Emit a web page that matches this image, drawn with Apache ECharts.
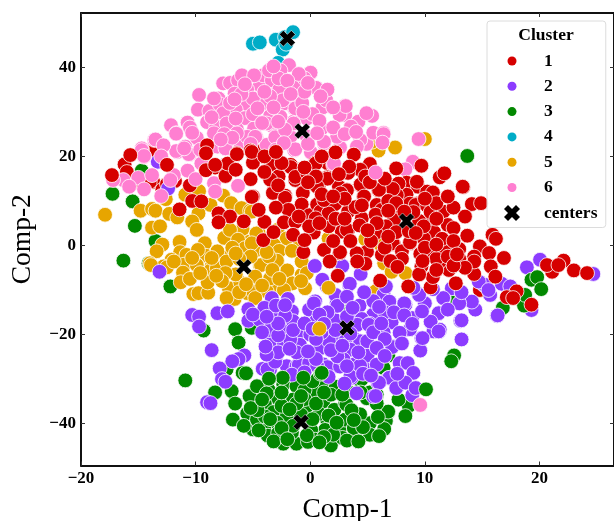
<!DOCTYPE html>
<html><head><meta charset="utf-8">
<script src="https://cdn.jsdelivr.net/npm/echarts@6/dist/echarts.min.js"></script>
<style>html,body{margin:0;padding:0;background:#fff}#c{width:614px;height:521px}</style>
</head><body><div id="c"></div>
<script>
const xTicks=[-20,-10,0,10,20];
const yTicks=[-40,-20,0,20,40];
const clusterNames=['1','2','3','4','5','6'];
const centers=[[-2,46.5],[-0.7,25.7],[8.4,5.5],[-5.8,-4.8],[3.2,-18.5],[-0.8,-39.7]];
const cluster4=[[-5.0,45.3],[-4.4,45.6],[-3.0,46.2],[-2.4,44.0],[-2.2,46.8],[-1.5,47.9],[-2.8,41.0],[-2.1,45.3]];
const cluster3=[[-14.7,16.8],[-17.25,11.6],[-15.5,9.9],[-15.3,4.4],[-13.5,1],[-16.3,-3.4],[-14.1,-4],[-12.2,-9.2],[-9.3,-19.1],[-6.55,-18.8],[-6.25,-21.8],[-5.1,-18.5],[-5.6,-28.6],[-5.9,-28.6],[-7.3,-27.8],[-10.9,-30.3],[-8.3,-33],[-6.85,-32.7],[-5.3,-33.8],[-6.55,-35.5],[-5.5,-37.7],[-6.75,-39.1],[-5,-41.3],[-3.65,-32.35],[-2.35,-31.2],[-1.2,-31.6],[-2.8,-34.4],[-3.95,-35.7],[-3.2,-37.4],[-2.05,-38.3],[-3.95,-40.3],[-2.9,-39.8],[-3.7,-42.7],[-2.35,-44.5],[-1.6,-42.4],[-1.2,-44.5],[-1.5,-34.6],[-4.65,-31.6],[-4.65,-39.1],[-0.3,-36.1],[1.15,-35],[2.1,-36.9],[1.5,-39.5],[1.3,-41.4],[0.08,-41.4],[0.43,-43.6],[1.8,-44.9],[2.55,-41.4],[3.05,-39.1],[3.05,-35.4],[3.3,-32.8],[2.2,-31.7],[1,-30.9],[4.35,-38],[4,-42.9],[5.2,-39.9],[5.2,-42.5],[5.8,-35.4],[6.8,-37.5],[6.6,-39.4],[6.45,-41.2],[4.93,-34.3],[-3.95,-38.4],[4.35,-30.3],[6.8,-24.7],[6.4,-27.5],[4.5,-30],[8.6,-36],[7.7,-34.6],[8.3,-38.3],[6.8,-37.3],[5.8,-35.5],[4.35,-37.9],[3.15,-35.7],[3.25,-32.7],[5.2,-33],[3.25,-14.8],[12.2,-12.6],[16.8,-14],[-1.6,-42],[-0.8,-38],[0.3,-33],[-0.5,-32.5],[2.8,-43.2],[-2.8,-42.1],[-0.2,-44.1],[0.8,-37.8],[-4.6,-37],[-5.2,-36.5],[-3.8,-33.2],[-2.5,-36],[-0.5,-34.5],[1.8,-33.5],[2,-42.5],[3.8,-41],[3.6,-37],[-1.5,-40.5],[-2.5,-41],[0.2,-39],[1.2,-43],[-4.5,-41.5],[-3.2,-44],[5.9,-38.5],[4.4,-33],[0.2,-30.5],[-2.5,-33],[-1.2,-35.5],[0.5,-35.5],[2.8,-33.5],[1.6,-38.2],[3.2,-43.8],[-0.3,-42.6],[-1.8,-36.8],[-3.5,-39],[4.6,-40.8],[5.8,-33.5],[3.8,-39.2],[-2,-43.5],[0.8,-44.2],[2.3,-39.8],[-4.2,-34.6],[6,-42.8],[4.2,-44],[-0.8,-33.8],[-5.8,-40.5],[1.2,-33]];
const cluster3Top=[[13.7,20.1],[12.55,-24.7],[12.3,-26],[10.1,-32.3],[19.3,-7.7],[19.8,-7.1],[20.15,-9.8],[18.65,-13.5],[18.75,-11.1],[-0.6,-29.7],[0.9,-28.8],[1,-28.6],[-2.4,-29.7],[-3.6,-29.9],[-5.6,-28.7]];
const cluster5=[[-17.9,6.9],[-14.8,7.8],[-13.8,8.2],[-13.5,7.8],[-12.3,7.1],[-12.6,10.4],[-13.8,4],[-13.1,4.3],[-10.9,11.4],[-9.7,12.2],[-11.6,6.3],[-9.4,9.2],[-9.75,7.2],[-10.3,5.4],[-9.9,3.5],[-9.2,0.5],[-7.6,11.2],[-6.9,9.5],[-6,8.4],[-8.7,9.1],[-5.25,7.8],[-7.5,1.7],[-5.9,3.7],[-7,3.5],[-5.25,0.9],[-6.3,1.3],[-5.7,-0.6],[-4.5,2.8],[-4.7,-1],[-11.4,0.8],[-12.9,0.2],[-13.4,-1.3],[-11.35,-1.5],[-12.1,-3.2],[-10.8,-2.1],[-9.1,-2.3],[-7.3,-2.8],[-8.1,-1.3],[-9.9,-4.3],[-14,-4],[-12.8,-4.7],[-8.6,-4.7],[-11,-4.3],[-13.9,-4.4],[-12.5,-4.9],[-11.9,-3.6],[-11.1,-6.1],[-11.3,-8.25],[-10.2,-10.9],[-9.75,-10.7],[-8.9,-10.6],[-9.9,-4.4],[-8.7,-5.6],[-8.95,-8.3],[-8.15,-5.1],[-7.3,-3.6],[-7.1,-9.6],[-6.6,-12],[-6.1,-8.3],[-4.8,-7.1],[-4.9,-11.8],[-4.4,-4.4],[-2.9,-3.6],[-2.05,-5.9],[-1.6,-8.5],[-3.1,-9.2],[-5.5,-10.7],[-3.8,-10.3],[-7.3,-11.8],[-0.75,-6.6],[-5,-10.3],[-5.1,7.6],[-4.7,2.7],[-2.85,3.5],[-2.05,1.6],[-0.9,0.9],[-3.15,0.1],[-2.7,-1.2],[-5.1,0.5],[-0.75,-3.6],[-4.3,-4.4],[-2.9,-3.4],[-2,-5.6],[-1.55,-8.5],[-0.45,-9.6],[-0.3,-6.2],[-4.8,-7],[-3.5,-7.4],[-4.8,-11.8],[-2.3,-10],[6.1,0.3],[6.45,-4],[7.1,-5.9],[5.7,-10.3],[5.96,21.3],[7.4,22],[10,23.9],[5.5,23.7],[5.4,23.3],[-3.6,-2.5],[-6.5,-6.5],[-7.4,-6.2],[-10.5,-7.5],[-1.6,-1.2],[-6.8,-0.5],[-7.7,-8],[-5.2,-2.5],[-6.2,-3],[-3.3,-5.5],[-8.6,-2.8],[-9.8,-1],[-4.2,-9],[-6.2,-10.5],[-8.2,-6.8],[-9.6,-6.2],[-5.6,-8.7],[-2.7,-7.5],[-6.5,-1.8],[-10.3,-2.8],[-3.8,-1.5],[-0.8,-8]];
const cluster5Top=[[1.6,1.6],[4.8,1.4],[6.1,0.3],[0.8,-18.7],[1.6,-9.5],[8.3,-6.2]];
const cluster1Base=[[-14.8,14],[-13.7,14.3],[-14,14.3],[-13.8,21.3],[-16.2,18.2],[-12.9,12.5],[14.8,-10],[-11.8,14.5],[-12.5,13.8],[-10.5,13.5],[1.5,18.5],[-2,24],[-4.5,21.5],[-16,16.5]];
const cluster1Top=[[-15.7,20.3],[-17.3,15.8],[-12.5,18.1],[-9,22.5],[-9.1,20.7],[-8.3,17.5],[-9.1,16.9],[-7.4,15.6],[-6.4,20.7],[-7.2,18.4],[-5.2,21.3],[-5,18.6],[-5.2,14.9],[-5,11],[-11.4,8.1],[-10.3,10],[-8,7.2],[-7,6.5],[-8,5.2],[-5.8,5.4],[-9.5,9.9],[-5.1,21],[-6.4,20.5],[-3.35,18.2],[-8.3,18.1],[-1.7,18.1],[-3.3,18.3],[-1.7,17.6],[-1.3,14.7],[-2.76,15.5],[2.2,20.9],[3.8,20.4],[0.44,18.6],[3.35,16.7],[5.2,18.3],[4.36,17],[1.5,15.3],[0.73,13.4],[4.36,13.6],[5.96,12.5],[3.2,12.5],[-0.64,12],[-2.2,11.2],[-3.25,12],[2.5,13.2],[9.7,17.9],[7.5,17.3],[8.4,14.1],[9.4,13.2],[7.6,12.9],[8.4,11.4],[10.2,12.1],[-3.26,11.8],[-2.2,10.7],[-0.65,11.8],[0.72,13.3],[1.5,15],[3.3,16.3],[3.2,12.4],[4.65,10.9],[5.95,12.4],[-1.3,15.4],[-3.5,14.8],[-5.1,10.9],[-0.75,9.2],[-1.9,8],[-0.07,6.8],[-2.3,5.2],[-4,5.3],[-1.3,5.3],[-1.5,2.4],[0.3,2.9],[1.6,4.6],[0.6,9.2],[2.2,9.4],[3.9,8.5],[3.3,7.6],[5.75,7],[3.3,3.5],[2.75,3.1],[6.55,4.2],[7.4,7.6],[7.7,13.9],[9.3,9.4],[7.55,11.3],[8.7,9.4],[8.7,0.5],[7.3,0.3],[6.25,-2.1],[4.95,-1.4],[4.05,-1.75],[2.55,-1.75],[1.2,-1],[-0.6,-1.5],[4.8,-4.1],[4.1,-3.6],[2.4,-6.8],[6.1,-7.9],[8.55,-9.2],[-4.1,1.2],[1.7,-3.6],[9.3,14.3],[5.8,9.1],[0.9,7.6],[1.7,9.4],[7.3,5.7],[6.24,8],[11.3,15.3],[11.7,16.2],[13.35,13.1],[14.1,9.3],[14.9,9.5],[13.5,6.5],[11.6,7.6],[10.7,11.9],[7.2,12.7],[9.2,9.1],[10.2,8.9],[10.6,5.7],[9.5,5.5],[6.6,4.3],[12,4.6],[12.5,3.9],[10.8,3],[9.9,1.6],[7.2,0.5],[13.7,2.2],[15.9,2.4],[16.2,1.5],[14.8,-0.2],[13,-0.8],[11.8,-0.6],[10.7,-1.7],[9.6,-1.9],[8,-1.3],[16.9,-2.8],[22.1,-3.4],[14.3,-2.5],[15.6,-1.7],[4.5,6.1],[5.7,6.9],[3.95,8.6],[4.4,13.7],[6,12.5],[4.7,11],[2.15,9.3],[3.2,3.5],[1.6,4.3],[2.6,-1.5],[8.7,0.7],[9.9,4.3],[5.7,2.8],[3.4,17.7],[1.6,7.2],[0.6,13.2],[1.2,10.2],[-0.26,16.2],[0.47,18.4],[2.65,11.7],[0.47,6.1],[-0.1,4.3],[15.75,-4.7],[16.15,-7],[14.3,-6.4],[11.7,-1.4],[12.1,-5.5],[12.7,-8.5],[10.5,-9.4],[10.7,-7.1],[9.7,-4.7],[14.3,-3.6],[13.1,-3.6],[11.3,-3.6],[18,-10.3],[17.15,-11.6],[19.3,-13.3],[21.1,-5.9],[23,-5.6],[24.15,-6.2],[20.65,-4.4],[21.65,-4.4],[17.7,-11.8],[13.3,13.2],[-4,16.5],[-2.5,18.5],[-0.5,17.5],[0.5,15.5],[1,11.5],[2.5,16],[4.8,15.5],[6.5,15],[6.8,10],[4.5,9],[3,10.5],[-1,6.5],[0.8,5],[2.2,6],[4.3,4.5],[5.8,5],[7.5,3],[8,-3],[10,-0.5],[11.5,1.5],[12.5,1],[10.5,7.5],[11,9.5],[12.5,8.5],[12,11],[9,7.5],[11,-3],[13,-3],[12,-2.5],[9.5,-6.5],[11,-5.5],[13.5,-5],[12.5,-4.5],[6.5,-0.5],[5.3,1],[3.5,1],[7,-3.5],[-6.5,17],[-4,20],[-3,21],[1,20],[8.6,3.2],[9.8,-3.5],[7.5,9.5],[10,10.5],[2,1],[-3,8.5],[-4.5,8],[-3.2,3],[-2.8,13.5],[-0.2,14.2],[2,11],[5.2,14.2],[6.8,7.8],[8.2,7.6],[9.2,2.8],[11,6],[12.8,-2],[7.6,-4.8],[3,6],[5,3.4],[-0.5,1.2],[11,0.2],[6.8,2]];
const cluster2=[[-13.3,18.8],[-12.4,12.8],[-13.15,-5.9],[-10.3,-15.6],[-9.7,-16],[-9.7,-18.2],[-8.1,-15.2],[-7.2,-14.8],[-8.6,-23.5],[-5.75,-24.7],[-6.25,-25.5],[-6.8,-26],[-7.9,-27.6],[-7.7,-30],[-7.4,-30.6],[-9,-35.2],[-5.4,-14.3],[-5.4,-16.9],[-3.35,-11.8],[-3.1,-15.9],[-4.4,-16.7],[-1.95,-12],[-1.6,-14.8],[-0.1,-14.4],[0.43,-12.55],[-2.3,-18.9],[-0.9,-19.3],[-3.5,-21.9],[-2.3,-22],[-0.9,-22.3],[-3,-25.6],[-0.9,-25],[0.7,-23.4],[1.55,-21.5],[2.2,-16.8],[3.4,-8.8],[2.3,-12.9],[1.45,-9.2],[3.8,-20.8],[2.6,-24.9],[-2.05,-27.1],[-4.15,-27.7],[-3.5,-27.8],[-1.2,-27.1],[1.15,-26.7],[-0.3,-26],[2.3,-27.1],[3.8,-26.7],[4.2,-16.7],[0,-20],[2,-20.4],[-1.75,-21.1],[-3.73,-27.8],[-3.06,-26.1],[-1,-26.8],[1.5,-27.3],[3.6,-29.6],[2.6,-27.2],[4.93,-26.8],[6.8,-29.8],[5.9,-30.9],[5.5,-33.9],[7.55,-32],[4.05,-33.2],[-8.7,-35.4],[6.4,-11],[6.9,-12.8],[8.2,-13.1],[9.45,-10.8],[10,-12.9],[4.3,-13.5],[5.5,-15.5],[4.5,-16.5],[5.2,-17.6],[7.1,-17.25],[6.4,-19.5],[8.65,-18.9],[11.2,-15.2],[13.1,-16.9],[11.25,-19.3],[10.75,-19.3],[13.2,-21.1],[9.7,-20.8],[9.6,-23.6],[7.1,-22.6],[4.95,-21.7],[4.35,-21.5],[3.05,-21.5],[3.5,-23.4],[5,-24.7],[2.9,-25.6],[7.8,-26.4],[8.5,-26.4],[9,-28.6],[6.9,-29.7],[6,-30.8],[7.5,-32],[8.9,-33.6],[3.6,-29.7],[4.35,-27],[5.7,-33.8],[8.3,-30.8],[9.2,-32],[2.8,-4.6],[4.4,-6.4],[1.05,-7.7],[3.45,-8.6],[2.2,-11.1],[0.4,-4.6],[0.32,-13],[14,-12.6],[15.15,-8.85],[16.3,-15.8],[14.4,-14.4],[11.65,-11.8],[18.9,-4.9],[20.05,-3.2],[24.7,-6.4],[15.2,-8.8],[14.7,-8.1],[16.7,-8.6],[16.35,-15.7],[13.2,-16.8],[11.3,-18.9],[15.7,-11.1],[14.1,-12.6],[13,-13],[12.35,-9.6],[11.2,-15.2],[10,-13],[9.45,-11],[11.6,-11.8],[8.3,-13.3],[8.9,-16.3],[10.5,-17.1],[9.75,-14.8],[12,-14.4],[15.55,-10],[17.45,-9.2],[19.3,-14.5],[6.9,-12.6],[8.2,-13],[9.5,-11.1],[9.8,-20.8],[11.2,-19.3],[7.15,-22.8],[8.7,-18.8],[4.97,-21.5],[4.1,-17.8],[5.1,-17.8],[2.36,-13.55],[0.9,-23],[1.63,-21.5],[2.36,-24.9],[-0.1,-26.4],[0.6,-27.1],[3.5,-29.4],[3.2,-27.1],[5.8,-26.75],[-1.5,-17],[-3.6,-19],[-2.8,-24],[0.5,-17],[1.5,-15],[0.5,-25.5],[-4,-14],[-3,-13.5],[-5,-15.5],[3.2,-16],[6.5,-15],[3.2,-11.5],[-1.2,-24],[1,-19.5],[-2.2,-15.8],[-4.2,-19.5],[-3.8,-24.5],[-1.5,-19],[0.8,-15.5],[2.2,-19],[3.7,-14],[5.5,-19.5],[6.5,-21],[7.3,-15],[8.2,-15.7],[5.8,-23],[4.2,-24],[1.8,-23.5],[-1.6,-29],[0.5,-21],[-0.5,-17.5],[-2.8,-20.2],[9,-9.5],[10.7,-9.8],[13.2,-10.5],[5.5,-12.5],[4.7,-10.5],[6.6,-9.2],[7.6,-28.8],[3,-31],[-3.9,-22.7],[-1.8,-23.2],[0.2,-18.7],[1.2,-17.6],[3.5,-19.8],[2.8,-22.5],[6.2,-17.5],[7.8,-19.6],[6.5,-24.8],[4.6,-28.8],[1.6,-29.5],[-0.5,-28.5],[5.3,-29.2],[8,-22],[8.9,-17.6],[6,-13.8],[-2.8,-17.5],[-0.2,-23.8],[-2.2,-13.4],[-3.8,-16]];
const cluster6=[[-9.7,33.8],[-12.15,27],[-11.7,25.2],[-13.6,23.7],[-10.7,27.6],[-10.5,26.5],[-9.8,30.5],[-8.8,30.2],[-9,27.7],[-8,33],[-7.9,31.7],[-7.6,36.4],[-7,36.5],[-6.3,37.1],[-5.96,38.2],[-6.6,34.1],[-5.5,31.7],[-6.5,30.5],[-5.7,28.6],[-6.4,26.1],[-7.6,29.7],[-8.2,26.7],[-4.9,26.3],[-4.7,24.3],[-3.3,26.8],[-3,24.6],[-3.5,29],[-4.2,31.9],[-4.4,36],[-4.1,38.2],[-4.9,38.2],[-2.8,35],[-3.35,37.1],[-1.85,40.5],[-2.6,39.3],[-3.6,39.3],[-1.3,36],[-1.4,30.8],[-1.45,27.8],[-2.3,31.9],[-1.4,21.4],[-3.8,22.6],[-6.1,22.9],[-7.3,21.8],[-9.9,24],[-11.6,21],[-10.5,20.5],[-10.9,22.2],[-8.1,22.2],[-14.7,21.8],[-14.5,19.9],[-8.4,25.2],[-7.3,27.4],[-5.5,24.4],[0,38.8],[0.5,35.5],[-2.7,35],[-1.16,35.8],[-0.93,33],[-1.3,30.8],[-4.1,31.9],[-3.5,29.1],[-2.4,32.6],[-2.76,37.5],[1.08,31],[1.4,32.6],[3.05,31.4],[3.05,29.3],[4.2,27.8],[5.4,29.1],[4.9,29.7],[2.56,29.3],[3.55,26.7],[1,26.3],[-0.3,28.5],[-3.05,24.3],[-1.74,24.4],[1.2,22.9],[2.4,24.3],[2.6,22],[-1.3,21.6],[0.06,20.9],[2,18.1],[4.9,22.8],[6.3,23.3],[5.5,25.3],[6.4,25.3],[4.36,23.7],[4.07,22.2],[9.45,23.9],[8.95,18.8],[8.3,17.1],[-3.8,27.4],[-2.6,28.9],[-1.45,27.4],[-13.5,23.8],[-11.7,25.1],[-14.7,21.4],[-14.5,20.1],[-11.7,21.2],[-10.6,20.5],[-11,21.8],[-9.9,24.2],[-10.7,16.8],[-16.3,14.7],[-15,15.2],[-15.8,13.2],[-17.2,14.7],[-14.5,12.6],[-13.8,15.8],[-11.9,15.8],[-12.2,14.7],[-9.5,18.4],[-8.4,14],[-7.4,21.8],[-8.3,12.1],[-10,14.9],[-6.4,25.2],[-4.8,24.4],[3.1,31.3],[0.5,35.4],[0.03,38.8],[6.4,25],[6.3,23.1],[2.35,24.4],[1.2,23.3],[2.07,18.4],[-0.5,37.5],[-5.5,35],[-5,33],[-7,32],[-3.5,33.5],[-1,38.5],[-0.7,32],[0.2,29.5],[-5,29.5],[-6.5,28.5],[-3,21.5],[-6,34],[-8.4,33],[-7.5,25],[-2.2,26],[-0.3,24.5],[0.8,28],[2,26.5],[3,25],[-0.5,34.5],[-3.2,31],[-6.8,24.2],[-0.2,22.8],[1.5,35],[-10.3,25.3],[-12.8,22.5],[-13,20],[-4,34.5],[-2,37],[-0.2,36.5],[-6.6,32.8],[-8.6,28.8],[-4.2,27.5],[-2.3,23],[-0.6,30],[0.9,33.5],[-1.7,34],[-5.7,36.2],[-3.2,40.2],[-5.2,22.8],[4,25.5],[2,31],[-9.6,21.5],[-7.8,23.8],[-4.6,30.8],[-2.8,27.8],[0.6,25.2]];
const cluster6Top=[[5.7,16.4],[-6.3,13.4],[-13,11.1],[9.6,-35.8]];
const dotColors={'1':'#d60000','2':'#8c3cff','3':'#028800','4':'#00acc7','5':'#e7a500','6':'#ff7fd1'};
const crossPath='path://M-1,-2L0,-1L1,-2L2,-1L1,0L2,1L1,2L0,1L-1,2L-2,1L-1,0L-2,-1Z';
const serif='"Liberation Serif","Times New Roman",serif';

function dots(name,data){
  return {type:'scatter',name:name,data:data,symbol:'circle',symbolSize:14.8,
    itemStyle:{color:dotColors[name],borderColor:'#fff',borderWidth:0.8,opacity:1},
    emphasis:{disabled:true},animation:false};
}
function minusFmt(list){
  return v=>list.includes(v)?String(v).replace('-','\u2212'):'';
}
const spine={show:true,onZero:false,lineStyle:{color:'#111',width:2}};
const inTick={show:true,inside:true,length:4,lineStyle:{color:'#333',width:1}};
const tickLabel={fontFamily:serif,fontWeight:'bold',fontSize:17,color:'#000'};

const chart=echarts.init(document.getElementById('c'),null,{renderer:'canvas'});
chart.setOption({
  animation:false,
  backgroundColor:'#fff',
  grid:{left:81,right:0,top:13,bottom:55.5,containLabel:false,outerBoundsMode:'none'},
  title:{text:'Cluster',left:546,top:26,textAlign:'center',padding:0,
    textStyle:{fontFamily:serif,fontWeight:'bold',fontSize:17.5,color:'#000'}},
  xAxis:[
    {type:'value',min:-20,max:26.5,name:'Comp-1',nameLocation:'middle',nameGap:30,
     nameTextStyle:{fontFamily:serif,fontSize:27.5,color:'#000'},
     splitLine:{show:false},axisLine:spine,
     axisTick:{...inTick,customValues:xTicks},
     axisLabel:{...tickLabel,margin:5,customValues:xTicks,formatter:minusFmt(xTicks)}},
    {type:'value',min:-20,max:26.5,position:'top',splitLine:{show:false},axisLine:spine,
     axisTick:{...inTick,customValues:xTicks},axisLabel:{show:false}}
  ],
  yAxis:[
    {type:'value',min:-49.4,max:52.2,name:'Comp-2',nameLocation:'middle',nameGap:44,
     nameTextStyle:{fontFamily:serif,fontSize:27.5,color:'#000'},
     splitLine:{show:false},axisLine:spine,
     axisTick:{...inTick,customValues:yTicks},
     axisLabel:{...tickLabel,margin:5,customValues:yTicks,formatter:minusFmt(yTicks)}},
    {type:'value',min:-49.4,max:52.2,position:'right',splitLine:{show:false},axisLine:spine,
     axisTick:{...inTick,customValues:yTicks},axisLabel:{show:false}}
  ],
  legend:[
    {data:clusterNames,orient:'vertical',left:487,top:21,icon:'circle',itemWidth:9,itemHeight:9,itemGap:7.3,
     padding:[31,53,31,20.5],backgroundColor:'rgba(255,255,255,0.8)',borderColor:'#dcdcdc',borderWidth:1,borderRadius:3,
     itemStyle:{borderWidth:0},selectedMode:false,
     textStyle:{fontFamily:serif,fontWeight:'bold',fontSize:17.5,color:'#000',padding:[0,0,0,22.5]}},
    {data:['centers'],orient:'vertical',left:504,top:204,icon:crossPath,itemWidth:16,itemHeight:16,
     padding:0,itemStyle:{borderWidth:0},selectedMode:false,
     textStyle:{fontFamily:serif,fontWeight:'bold',fontSize:17.5,color:'#000',padding:[0,0,0,19]}}
  ],
  series:[
    dots('4',cluster4),
    dots('3',cluster3),
    dots('5',cluster5),
    dots('1',cluster1Base),
    dots('2',cluster2),
    dots('6',cluster6),
    dots('3',cluster3Top),
    dots('5',cluster5Top),
    dots('1',cluster1Top),
    dots('6',cluster6Top),
    {type:'scatter',name:'centers',data:centers,symbol:crossPath,symbolSize:16,
     itemStyle:{color:'#000',borderColor:'#fff',borderWidth:0.5,opacity:1},emphasis:{disabled:true},animation:false}
  ]
});
</script></body></html>
